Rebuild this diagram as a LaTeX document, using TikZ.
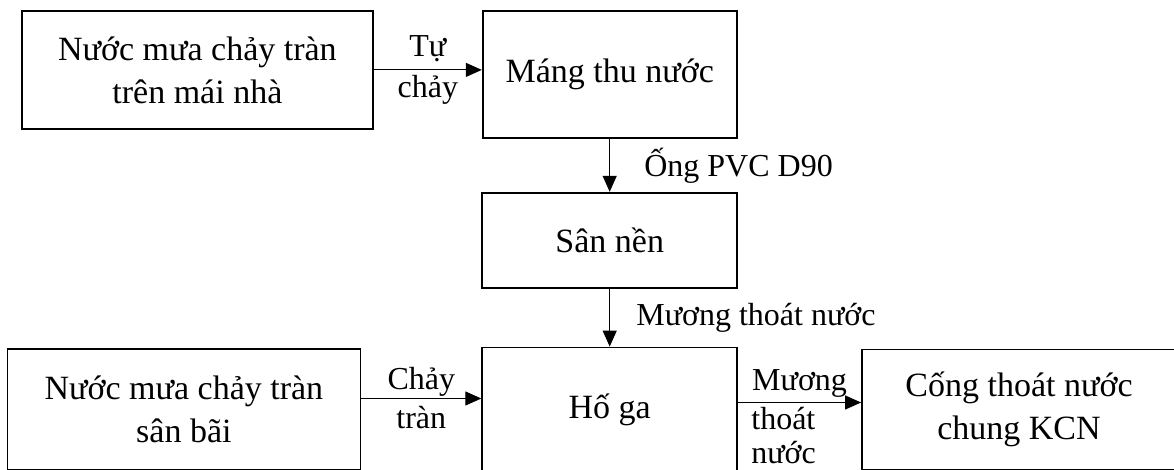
\documentclass[tikz,border=0pt]{standalone}
\usepackage{fontspec}
\setmainfont{Liberation Serif}
\usetikzlibrary{positioning, arrows.meta}

\begin{document}
\begin{tikzpicture}[node distance=0.35cm]
\tikzstyle{block} = [rectangle, draw, line width=0.9pt, align=center,
    font=\fontsize{17}{21.5}\selectfont]
\tikzstyle{line} = [draw, line width=0.6pt, -{Triangle[length=8pt, width=7pt]}]
\tikzstyle{lbl} = [font=\fontsize{16}{19.5}\selectfont, align=center, inner sep=2pt]

\useasboundingbox (0,0) rectangle (587pt,-235pt);

\node (roof) [block, minimum width=175.5pt, minimum height=59pt, anchor=north west] at (10.5pt,-5pt) {Nước mưa chảy tràn\\trên mái nhà};
\node (gutter) [block, minimum width=127pt, minimum height=63.5pt, right=54pt of roof.north east, anchor=north west] {Máng thu nước};
\node (yard) [block, minimum width=127.5pt, minimum height=47.5pt, below=26.5pt of gutter] {Sân nền};
\node (pit) [block, minimum width=127.5pt, minimum height=62pt, below=29pt of yard] {Hố ga};
\node (lot) [block, minimum width=176.5pt, minimum height=60.5pt, left=60pt of pit] {Nước mưa chảy tràn\\sân bãi};
\node (sewer) [block, minimum width=157pt, minimum height=60pt, right=61.5pt of pit] {Cống thoát nước\\chung KCN};

% bottom row arrows run a little above the box centres
\coordinate (lotout) at ([yshift=5.5pt]lot.east);
\coordinate (pitout) at ([yshift=3.5pt]pit.east);

\path[line] (roof) -- node[lbl, font=\fontsize{16}{20.5}\selectfont] {Tự\\chảy} (roof -| gutter.west);
\path[line] (gutter) -- node[lbl, right, xshift=15pt] {Ống PVC D90} (yard);
\path[line] (yard) -- node[lbl, right, xshift=11pt] {Mương thoát nước} (pit);
\path[line] (lotout) -- node[lbl] {Chảy\\tràn} (lotout -| pit.west);
\path[line] (pitout) -- node[lbl, above] {Mương}
    node[lbl, below, align=left, xshift=-8pt, font=\fontsize{16}{17}\selectfont] {thoát\\nước} (pitout -| sewer.west);
\end{tikzpicture}
\end{document}
